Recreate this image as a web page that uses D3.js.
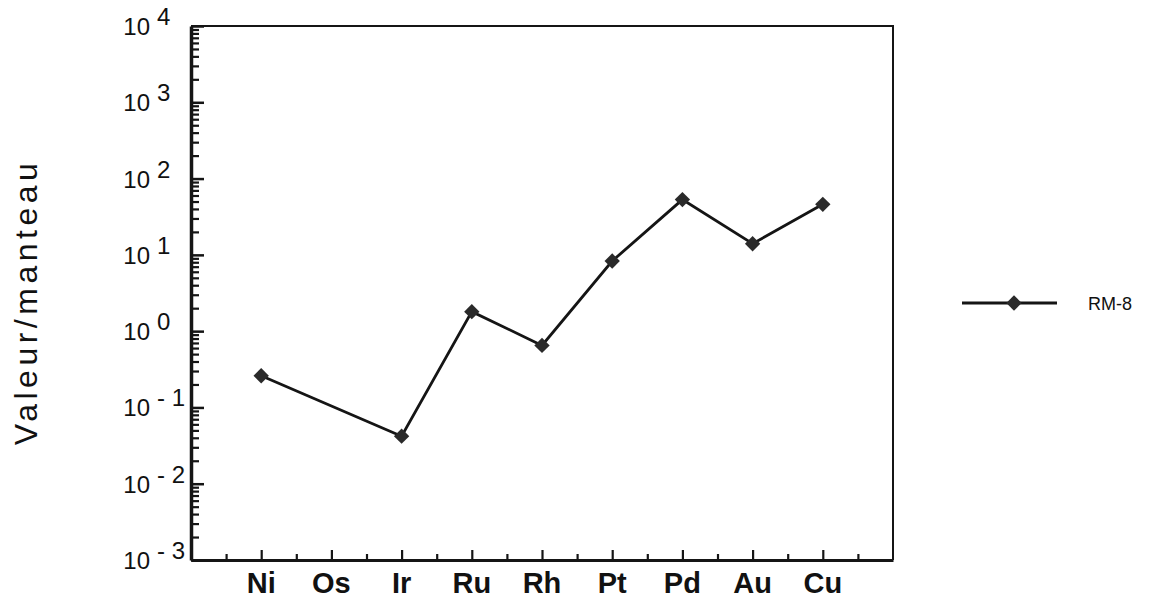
<!DOCTYPE html>
<html>
<head>
  <meta charset="utf-8">
  <title>RM-8 Valeur/manteau</title>
  <style>
    body { margin: 0; background: #fff; }
    svg { display: block; font-family: "Liberation Sans", Arial, sans-serif; }
    .axis path, .axis line { stroke: #151515; }
    .axis text { display: none; }
  </style>
  <script src="https://d3js.org/d3.v7.min.js"></script>
</head>
<body>
<svg width="1155" height="601"></svg>
<script>
// data
var categories = ["Ni", "Os", "Ir", "Ru", "Rh", "Pt", "Pd", "Au", "Cu"];
var rm8 = [0.26, null, 0.042, 1.8, 0.65, 8.3, 53, 14, 46];
var exponents = [-3, -2, -1, 0, 1, 2, 3, 4];
var seriesName = "RM-8";
var yTitle = "Valeur/manteau";

var svg = d3.select("svg"),
    margin = {top: 26, right: 262, bottom: 41, left: 191},
    width = +svg.attr("width") - margin.left - margin.right,
    height = +svg.attr("height") - margin.top - margin.bottom;

var x = d3.scaleLinear().domain([-1, categories.length]).range([0, width]),
    y = d3.scaleLog().domain([1e-3, 1e4]).range([height, 0]);

var g = svg.append("g")
    .attr("transform", "translate(" + margin.left + "," + margin.top + ")");

// frame: top and right thin
g.append("path")
    .attr("d", "M0,0H" + width + "V" + height)
    .attr("fill", "none")
    .attr("stroke", "#151515")
    .attr("stroke-width", 2);

// y minor ticks (2..9 in each decade)
var minorY = [];
exponents.slice(0, -1).forEach(function(e) {
  for (var k = 2; k <= 9; k++) minorY.push(k * Math.pow(10, e));
});

g.append("g")
    .attr("class", "axis")
    .call(d3.axisLeft(y).tickValues(minorY).tickSize(-8).tickSizeOuter(0).tickFormat(""))
    .call(function(s) { s.selectAll("line").attr("stroke-width", 2.2); s.select(".domain").remove(); });

g.append("g")
    .attr("class", "axis")
    .call(d3.axisLeft(y).tickValues(exponents.map(function(e) { return Math.pow(10, e); }))
      .tickSize(-13).tickSizeOuter(0).tickFormat(""))
    .call(function(s) {
      s.selectAll("line").attr("stroke-width", 2.5);
      s.select(".domain").attr("stroke-width", 3.5);
    });

// y labels 10^e
var ylab = g.append("g")
    .attr("font-size", 24)
    .attr("fill", "#111");
exponents.forEach(function(e) {
  var yy = y(Math.pow(10, e)) + 9;
  ylab.append("text")
      .attr("x", -41)
      .attr("y", yy)
      .attr("text-anchor", "end")
      .text("10");
  ylab.append("text")
      .attr("x", -34)
      .attr("y", yy - 10)
      .attr("xml:space", "preserve")
      .text(e < 0 ? "- " + (-e) : String(e));
});

// x ticks
var minorX = d3.range(-0.5, categories.length, 1);
g.append("g")
    .attr("class", "axis")
    .attr("transform", "translate(0," + height + ")")
    .call(d3.axisBottom(x).tickValues(minorX).tickSize(-6).tickSizeOuter(0).tickFormat(""))
    .call(function(s) { s.selectAll("line").attr("stroke-width", 2.2); s.select(".domain").remove(); });

g.append("g")
    .attr("class", "axis")
    .attr("transform", "translate(0," + height + ")")
    .call(d3.axisBottom(x).tickValues(d3.range(categories.length)).tickSize(-10).tickSizeOuter(0).tickFormat(""))
    .call(function(s) {
      s.selectAll("line").attr("stroke-width", 2.2);
      s.select(".domain").attr("stroke-width", 3);
    });

g.append("g")
    .attr("font-size", 29)
    .attr("font-weight", "bold")
    .attr("fill", "#111")
  .selectAll("text")
  .data(categories)
  .enter().append("text")
    .attr("x", function(d, i) { return x(i); })
    .attr("y", height + 33)
    .attr("text-anchor", "middle")
    .text(function(d) { return d; });

// y title
svg.append("text")
    .attr("transform", "translate(37,302) rotate(-90)")
    .attr("text-anchor", "middle")
    .attr("font-size", 32)
    .attr("letter-spacing", 4.5)
    .attr("fill", "#111")
    .text(yTitle);

// series
var pts = rm8.map(function(v, i) { return {i: i, v: v}; })
    .filter(function(d) { return d.v != null; });

var line = d3.line()
    .x(function(d) { return x(d.i); })
    .y(function(d) { return y(d.v); });

g.append("path")
    .datum(pts)
    .attr("d", line)
    .attr("fill", "none")
    .attr("stroke", "#151515")
    .attr("stroke-width", 2.8);

var diamond = d3.symbol().type(d3.symbolDiamond2).size(150);

g.selectAll(".pt")
  .data(pts)
  .enter().append("path")
    .attr("class", "pt")
    .attr("transform", function(d) { return "translate(" + x(d.i) + "," + y(d.v) + ")"; })
    .attr("d", diamond)
    .attr("fill", "#2a2a2a");

// legend
var lg = svg.append("g").attr("transform", "translate(962,303)");
lg.append("line")
    .attr("x1", 0).attr("x2", 95)
    .attr("stroke", "#151515")
    .attr("stroke-width", 2.8);
lg.append("path")
    .attr("transform", "translate(52,0)")
    .attr("d", diamond)
    .attr("fill", "#2a2a2a");
lg.append("text")
    .attr("x", 126)
    .attr("y", 7)
    .attr("font-size", 18)
    .attr("fill", "#111")
    .text(seriesName);
</script>
</body>
</html>
